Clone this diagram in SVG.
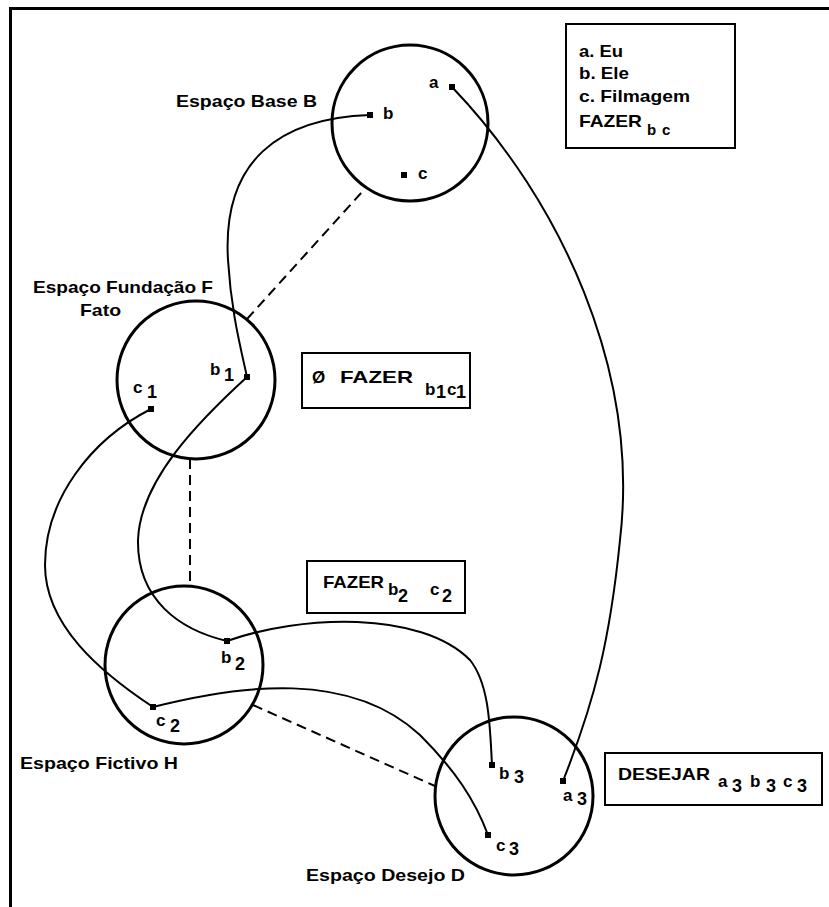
<svg xmlns="http://www.w3.org/2000/svg" width="829" height="907" viewBox="0 0 829 907">
<defs>
<style>
.t{font-family:"Liberation Sans",Arial,sans-serif;font-weight:bold;font-size:17px;fill:#000}
.s{font-family:"Liberation Sans",Arial,sans-serif;font-weight:bold;font-size:15px;fill:#000}
.n{font-family:"Liberation Sans",Arial,sans-serif;font-weight:bold;font-size:18px;fill:#000}
.circ{fill:none;stroke:#000;stroke-width:3}
.box{fill:#fff;stroke:#000;stroke-width:2}
.link{fill:none;stroke:#000;stroke-width:2}
.dash{fill:none;stroke:#000;stroke-width:2;stroke-dasharray:10 6}
.pt{fill:#000}
</style>
</defs>
<rect width="829" height="907" fill="#fff"/>
<path d="M10.5,907 V8.5 H829" fill="none" stroke="#000" stroke-width="3"/>

<g id="connectors">
<line class="dash" x1="247" y1="319" x2="362" y2="192"/>
<line class="dash" x1="190" y1="459" x2="190" y2="587"/>
<line class="dash" x1="253" y1="705" x2="435" y2="786"/>
<path class="link" d="M370,115 C280,118 222,160 228,260 C231,310 240,345 247,377"/>
<path class="link" d="M247,377 C200,420 140,480 138,540 C137,600 180,630 227,641"/>
<path class="link" d="M151,409 C90,440 45,500 45,565 C45,625 100,672 153,707"/>
<path class="link" d="M227,641 C300,615 420,610 470,660 C490,685 490,730 492,765"/>
<path class="link" d="M153,707 C240,685 350,670 420,735 C455,770 475,800 488,835"/>
<path class="link" d="M452,87 C560,200 640,370 620,540 C610,640 595,700 563,781"/>
</g>

<g id="space-B">
<circle class="circ" cx="410" cy="123" r="78"/>
<text class="t" x="176" y="107" textLength="141" lengthAdjust="spacingAndGlyphs">Espaço Base B</text>
<rect class="pt" x="449" y="84" width="6" height="6"/>
<rect class="pt" x="367" y="112" width="6" height="6"/>
<rect class="pt" x="401" y="172" width="6" height="6"/>
<text class="t" x="429" y="88">a</text>
<text class="t" x="383" y="119">b</text>
<text class="t" x="418" y="179">c</text>
</g>

<g id="legend">
<rect class="box" x="566" y="24" width="169" height="124"/>
<text class="t" x="579" y="57" textLength="44" lengthAdjust="spacingAndGlyphs">a. Eu</text>
<text class="t" x="579" y="79" textLength="50" lengthAdjust="spacingAndGlyphs">b. Ele</text>
<text class="t" x="579" y="102" textLength="111" lengthAdjust="spacingAndGlyphs">c. Filmagem</text>
<text class="t" x="579" y="127" textLength="63" lengthAdjust="spacingAndGlyphs">FAZER</text>
<text class="s" x="647" y="135">b</text>
<text class="s" x="662" y="135">c</text>
</g>

<g id="space-F">
<circle class="circ" cx="196" cy="380" r="79"/>
<text class="t" x="33" y="293" textLength="180" lengthAdjust="spacingAndGlyphs">Espaço Fundação F</text>
<text class="t" x="80" y="316" textLength="41" lengthAdjust="spacingAndGlyphs">Fato</text>
<rect class="pt" x="244" y="374" width="6" height="6"/>
<rect class="pt" x="148" y="406" width="6" height="6"/>
<text class="t" x="210" y="375">b</text>
<text class="n" x="224" y="381">1</text>
<text class="t" x="133" y="393">c</text>
<text class="n" x="147" y="398">1</text>
</g>

<g id="box-F">
<rect class="box" x="302" y="353" width="168" height="55"/>
<text class="t" x="312" y="383">Ø</text>
<text class="t" x="340" y="383" textLength="73" lengthAdjust="spacingAndGlyphs">FAZER</text>
<text class="t" x="425" y="395">b</text>
<text class="n" x="436" y="398">1</text>
<text class="t" x="447" y="395">c</text>
<text class="n" x="456" y="398">1</text>
</g>

<g id="box-H">
<rect class="box" x="307" y="561" width="158" height="52"/>
<text class="t" x="323" y="588" textLength="61" lengthAdjust="spacingAndGlyphs">FAZER</text>
<text class="t" x="388" y="595">b</text>
<text class="n" x="398" y="602">2</text>
<text class="t" x="430" y="595">c</text>
<text class="n" x="442" y="602">2</text>
</g>

<g id="space-H">
<circle class="circ" cx="184" cy="665" r="79"/>
<text class="t" x="20" y="769" textLength="158" lengthAdjust="spacingAndGlyphs">Espaço Fictivo H</text>
<rect class="pt" x="224" y="638" width="6" height="6"/>
<rect class="pt" x="150" y="704" width="6" height="6"/>
<text class="t" x="221" y="663">b</text>
<text class="n" x="235" y="670">2</text>
<text class="t" x="156" y="726">c</text>
<text class="n" x="170" y="732">2</text>
</g>

<g id="space-D">
<circle class="circ" cx="514" cy="796" r="79"/>
<text class="t" x="306" y="881" textLength="159" lengthAdjust="spacingAndGlyphs">Espaço Desejo D</text>
<rect class="pt" x="489" y="762" width="6" height="6"/>
<rect class="pt" x="560" y="778" width="6" height="6"/>
<rect class="pt" x="485" y="832" width="6" height="6"/>
<text class="t" x="499" y="779">b</text>
<text class="n" x="514" y="783">3</text>
<text class="t" x="563" y="801">a</text>
<text class="n" x="577" y="805">3</text>
<text class="t" x="496" y="851">c</text>
<text class="n" x="509" y="855">3</text>
</g>

<g id="box-D">
<rect class="box" x="605" y="753" width="217" height="52"/>
<text class="t" x="618" y="780" textLength="92" lengthAdjust="spacingAndGlyphs">DESEJAR</text>
<text class="t" x="718" y="787">a</text>
<text class="n" x="732" y="792">3</text>
<text class="t" x="750" y="787">b</text>
<text class="n" x="766" y="792">3</text>
<text class="t" x="783" y="787">c</text>
<text class="n" x="797" y="792">3</text>
</g>
</svg>
